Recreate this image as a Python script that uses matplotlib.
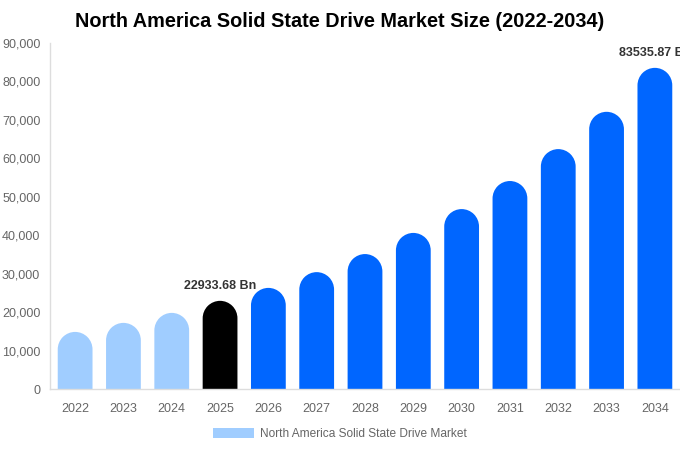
import matplotlib.pyplot as plt
from matplotlib.path import Path
from matplotlib.patches import PathPatch, Patch

plt.rcParams['font.family'] = ['Liberation Sans', 'DejaVu Sans']

# data
years = ['2022', '2023', '2024', '2025', '2026', '2027', '2028',
         '2029', '2030', '2031', '2032', '2033', '2034']
market_size = [14850, 17200, 19800, 22933.68, 26300, 30400, 35100,
               40600, 46800, 54100, 62400, 72100, 83535.87]
labelled = {3: '22933.68 Bn', 12: '83535.87 Bn'}

colors = []
for i in range(len(years)):
    if i < 3:
        colors.append('#a0cdff')
    elif i == 3:
        colors.append('#000000')
    else:
        colors.append('#0066ff')

fig = plt.figure(figsize=(6.8, 4.5), dpi=100)
ax = fig.add_axes([50 / 680, 61 / 450, 630 / 680, 346 / 450])
ax.set_xlim(-0.52, len(years) - 0.48)
ax.set_ylim(0, 90000)

bar_w = 0.72
# rounded cap radius: half the bar width in pixels, turned into y units
px_per_x = 630 / len(years)
px_per_y = 346 / 90000
cap_y = (bar_w * px_per_x / 2) / px_per_y

arc = Path.arc(0, 180)


def rounded_bar(x, h):
    # bar with a half-ellipse top, built in data coordinates
    hw = bar_w / 2
    base = h - cap_y
    verts = [(x + hw, 0), (x + hw, base)]
    codes = [Path.MOVETO, Path.LINETO]
    for (ux, uy), c in zip(arc.vertices[1:], arc.codes[1:]):
        verts.append((x + ux * hw, base + uy * cap_y))
        codes.append(c)
    verts += [(x - hw, 0), (x + hw, 0)]
    codes += [Path.LINETO, Path.CLOSEPOLY]
    return Path(verts, codes)


xs = list(range(len(years)))
for x, v, c in zip(xs, market_size, colors):
    ax.add_patch(PathPatch(rounded_bar(x, v), facecolor=c, edgecolor='none'))

for i, txt in labelled.items():
    ax.text(xs[i], market_size[i] + 2200, txt, ha='center', va='bottom',
            fontsize=9, fontweight='bold', color='#333333', clip_on=False)

ax.set_xticks(xs)
ax.set_xticklabels(years)
ax.set_yticks(range(0, 90001, 10000))
ax.set_yticklabels(['{:,}'.format(v) for v in range(0, 90001, 10000)])
ax.tick_params(axis='both', length=0, labelsize=9, colors='#666666')
ax.tick_params(axis='x', pad=10)
ax.tick_params(axis='y', pad=7)

for s in ['top', 'right']:
    ax.spines[s].set_visible(False)
for s in ['left', 'bottom']:
    ax.spines[s].set_color('#dddddd')
    ax.spines[s].set_linewidth(1)

fig.text(0.5, 0.953, 'North America Solid State Drive Market Size (2022-2034)',
         ha='center', va='center', fontsize=14.3, fontweight='bold', color='#000000')

handle = Patch(facecolor='#a0cdff', edgecolor='none')
fig.legend([handle], ['North America Solid State Drive Market'], loc='center',
           bbox_to_anchor=(0.5, 0.036), frameon=False, fontsize=8.6,
           labelcolor='#666666', handlelength=3.4, handleheight=1.0,
           handletextpad=0.5)

fig.savefig('out.png', dpi=100)
